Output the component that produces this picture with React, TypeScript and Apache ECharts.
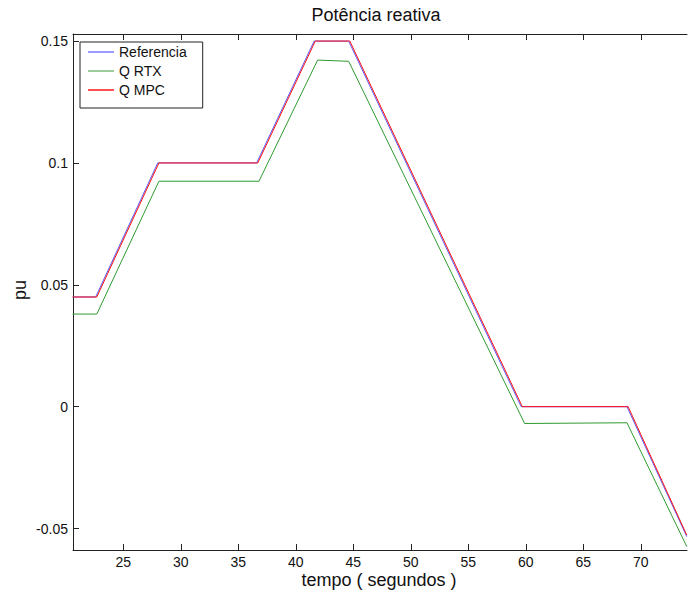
import React, { useEffect, useRef } from "react";
import * as echarts from "echarts";

const refTime = [20.6, 22.6, 28.0, 36.6, 41.6, 44.6, 59.6, 68.8, 74.0];
const refValues = [0.045, 0.045, 0.1, 0.1, 0.15, 0.15, 0, 0, -0.0533];

const rtxTime = [20.6, 22.7, 28.1, 36.8, 41.9, 44.6, 59.9, 68.8, 74.0];
const rtxValues = [0.038, 0.038, 0.0925, 0.0925, 0.1422, 0.1417, -0.0069, -0.0066, -0.0574];

const mpcTime = [20.6, 22.7, 28.1, 36.7, 41.7, 44.7, 59.7, 68.9, 74.0];
const mpcValues = [0.045, 0.045, 0.1, 0.1, 0.15, 0.15, 0, 0, -0.0527];

const xTicks = [25, 30, 35, 40, 45, 50, 55, 60, 65, 70];
const yTicks = [-0.05, 0, 0.05, 0.1, 0.15];

const seriesNames = ["Referencia", "Q RTX", "Q MPC"];
const titleText = "Potência reativa";
const xLabel = "tempo ( segundos )";
const yLabel = "pu";

const FONT = "Liberation Sans, Arial, sans-serif";
const AXIS = "#222";

function zip(t: number[], v: number[]) {
  return t.map((x, i) => [x, v[i]]);
}

export default function App() {
  const ref = useRef<HTMLDivElement>(null);
  useEffect(() => {
    if (!ref.current) return;
    const chart = echarts.init(ref.current, undefined, { renderer: "svg" });
    const axisCommon = {
      type: "value" as const,
      min: 20.63,
      max: 74.02,
      splitLine: { show: false },
      axisLine: { show: true, onZero: false, lineStyle: { color: AXIS, width: 1 } },
    };
    chart.setOption({
      animation: false,
      backgroundColor: "#fff",
      grid: { left: 73, right: 1, top: 34, bottom: 42, containLabel: false, outerBoundsMode: "none" },
      graphic: [
        {
          type: "text",
          x: 376,
          y: 15,
          style: { text: titleText, font: `18px ${FONT}`, fill: "#111", textAlign: "center", textVerticalAlign: "middle" },
        },
        {
          type: "text",
          x: 379,
          y: 580,
          style: { text: xLabel, font: `18px ${FONT}`, fill: "#111", textAlign: "center", textVerticalAlign: "middle" },
        },
        {
          type: "text",
          x: 20,
          y: 290,
          rotation: Math.PI / 2,
          style: { text: yLabel, font: `18px ${FONT}`, fill: "#111", textAlign: "center", textVerticalAlign: "middle" },
        },
      ],
      legend: {
        orient: "vertical",
        left: 80,
        top: 42,
        data: seriesNames,
        backgroundColor: "#fff",
        borderColor: "#222",
        borderWidth: 1,
        borderRadius: 0,
        padding: [3, 16, 11, 8],
        itemGap: 5,
        itemWidth: 26,
        itemHeight: 2,
        itemTextGap: 9,
        icon: "rect",
        textStyle: { fontFamily: FONT, fontSize: 14, color: "#111", lineHeight: 14 },
      },
      xAxis: [
        {
          ...axisCommon,
          position: "bottom",
          axisTick: { show: true, inside: true, length: 6, customValues: xTicks, lineStyle: { color: AXIS } },
          axisLabel: {
            show: true,
            customValues: xTicks,
            margin: 5,
            fontFamily: FONT,
            fontSize: 14,
            color: "#111",
          },
        },
        {
          ...axisCommon,
          position: "top",
          axisTick: { show: true, inside: true, length: 6, customValues: xTicks, lineStyle: { color: AXIS } },
          axisLabel: { show: false },
        },
      ],
      yAxis: {
        type: "value",
        min: -0.0588,
        max: 0.1529,
        splitLine: { show: false },
        axisLine: { show: true, onZero: false, lineStyle: { color: AXIS, width: 1 } },
        axisTick: { show: true, inside: true, length: 6, customValues: yTicks, lineStyle: { color: AXIS } },
        axisLabel: {
          show: true,
          customValues: yTicks,
          margin: 5,
          fontFamily: FONT,
          fontSize: 14,
          color: "#111",
          formatter: (v: number) => String(v),
        },
      },
      series: [
        {
          name: seriesNames[0],
          type: "line",
          data: zip(refTime, refValues),
          showSymbol: false,
          symbol: "none",
          lineStyle: { color: "#5a5aff", width: 1 },
          itemStyle: { color: "#9a9aff" },
        },
        {
          name: seriesNames[1],
          type: "line",
          data: zip(rtxTime, rtxValues),
          showSymbol: false,
          symbol: "none",
          lineStyle: { color: "#2f9a2f", width: 1 },
          itemStyle: { color: "#9ccc9c" },
        },
        {
          name: seriesNames[2],
          type: "line",
          data: zip(mpcTime, mpcValues),
          showSymbol: false,
          symbol: "none",
          lineStyle: { color: "#ff1010", width: 1 },
          itemStyle: { color: "#ff5050" },
        },
      ],
    });
    return () => chart.dispose();
  }, []);
  return <div ref={ref} style={{ position: "fixed", left: 0, top: 0, width: 688, height: 592 }} />;
}
